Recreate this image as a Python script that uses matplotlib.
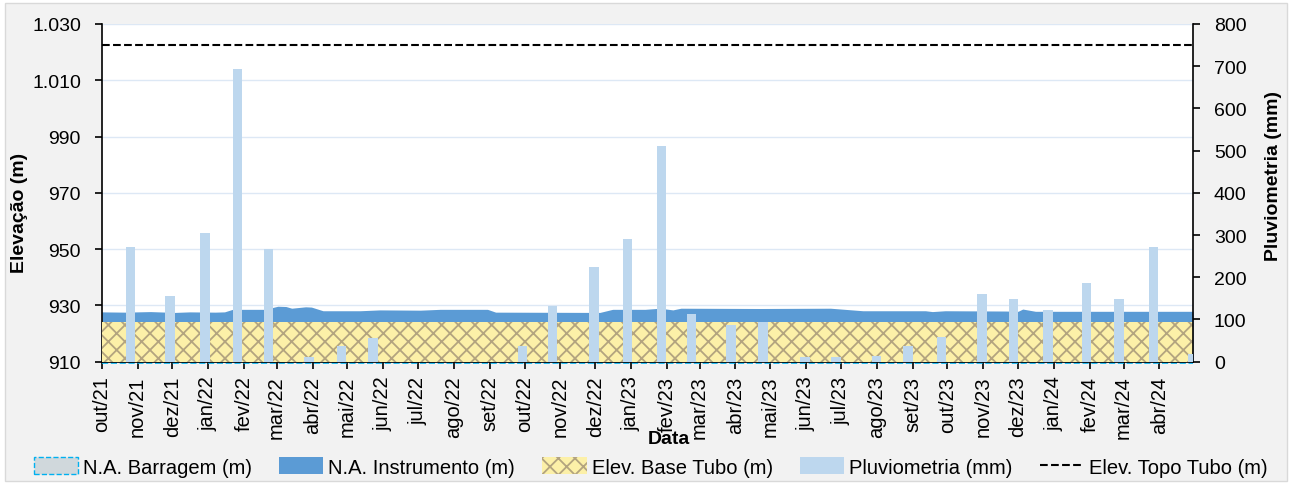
import matplotlib
matplotlib.use('Agg')
import matplotlib.pyplot as plt
import matplotlib.ticker as mticker
from matplotlib.patches import Patch, Rectangle
from matplotlib.lines import Line2D
import pandas as pd

plt.rcParams['font.family'] = ['Liberation Sans', 'DejaVu Sans']
plt.rcParams['hatch.linewidth'] = 1.3

# pluviometria mensal (mm)
chuva_datas = ['2021-10-26', '2021-11-29', '2021-12-29', '2022-01-26', '2022-02-22', '2022-03-29',
               '2022-04-26', '2022-05-23', '2022-09-29', '2022-10-25', '2022-11-30', '2022-12-29',
               '2023-01-27', '2023-02-22', '2023-03-28', '2023-04-25', '2023-05-31', '2023-06-27',
               '2023-08-01', '2023-08-28', '2023-09-26', '2023-10-31', '2023-11-27', '2023-12-27',
               '2024-01-29', '2024-02-26', '2024-03-27', '2024-04-30']
chuva_mm = [271, 155, 305, 693, 267, 12, 37, 56, 38, 132, 224, 290,
            510, 112, 88, 94, 12, 12, 13, 36, 59, 160, 148, 122,
            186, 148, 271, 18]

# N.A. instrumento (m)
na_datas = ['2021-10-01', '2021-10-21', '2021-11-12', '2021-12-03', '2021-12-16', '2022-01-07',
            '2022-01-15', '2022-01-22', '2022-02-19', '2022-03-02', '2022-03-09', '2022-03-14',
            '2022-03-26', '2022-03-31', '2022-04-10', '2022-05-12', '2022-05-29', '2022-07-03',
            '2022-07-20', '2022-08-30', '2022-09-06', '2022-12-05', '2022-12-16', '2023-01-13',
            '2023-01-26', '2023-02-06', '2023-02-13', '2023-04-22', '2023-06-22', '2023-07-20',
            '2023-09-12', '2023-09-18', '2023-09-29', '2023-11-20', '2023-12-01', '2023-12-05',
            '2023-12-16', '2024-04-30']
na_instr = [927.7, 927.6, 927.8, 927.5, 927.7, 927.6,
            927.7, 928.6, 928.6, 929.7, 929.6, 929.0,
            929.5, 929.4, 928.1, 928.1, 928.4, 928.3,
            928.6, 928.6, 927.6, 927.5, 928.6, 928.6,
            929.0, 928.4, 929.0, 928.9, 929.0, 928.1,
            928.1, 927.8, 928.1, 928.0, 927.9, 928.7,
            927.9, 927.9]

elev_base = 924.2    # Elev. Base Tubo (m)
elev_topo = 1022.5   # Elev. Topo Tubo (m)
na_barragem = 909.7  # fica abaixo do eixo

meses = ['jan', 'fev', 'mar', 'abr', 'mai', 'jun', 'jul', 'ago', 'set', 'out', 'nov', 'dez']

inicio = pd.Timestamp('2021-10-01')
fim = pd.Timestamp('2024-04-30')
fs = 14

fig = plt.figure(figsize=(12.91, 4.85), dpi=100)
fig.patches.append(Rectangle((0.004, 0.006), 0.993, 0.986, transform=fig.transFigure,
                             facecolor='#F2F2F2', edgecolor='#D9D9D9', lw=1, zorder=-10))
ax = fig.add_axes([0.0788, 0.2522, 0.9241 - 0.0788, 0.9485 - 0.2522])
ax.set_facecolor('white')

na_x = pd.to_datetime(na_datas)
ax.fill_between(na_x, 910, na_instr, color='#5B9BD5', lw=0, zorder=2)
ax.fill_between([inicio, fim], 910, elev_base, facecolor='#FCF0A8', edgecolor='#B3A47F',
                hatch='xx', lw=0, zorder=3)
ax.plot([inicio, fim], [na_barragem, na_barragem], color='#00B0F0', ls='--', lw=1.2,
        clip_on=False, zorder=1)
ax.plot([inicio, fim], [elev_topo, elev_topo], color='black', ls='--', lw=1.5, zorder=4)

ax.set_ylim(910, 1030)
ax.set_yticks(range(910, 1031, 20))
ax.yaxis.set_major_formatter(mticker.FuncFormatter(lambda v, p: f'{v:,.0f}'.replace(',', '.')))
ax.grid(axis='y', color='#DDE8F5', lw=1)
ax.set_axisbelow(True)
ax.set_xlim(inicio, fim)

ticks = pd.date_range('2021-10-01', '2024-04-01', freq='MS')
ax.set_xticks(ticks)
ax.set_xticklabels([f'{meses[t.month - 1]}/{str(t.year)[2:]}' for t in ticks], rotation=90)

ax2 = ax.twinx()
ax2.bar(pd.to_datetime(chuva_datas), chuva_mm, width=8.2, color='#BDD7EE', zorder=5)
ax2.set_ylim(0, 800)
ax2.set_yticks(range(0, 801, 100))
ax2.set_xlim(inicio, fim)

for a in (ax, ax2):
    a.spines['top'].set_visible(False)
    for s in ('left', 'right', 'bottom'):
        a.spines[s].set_linewidth(1.2)
    a.tick_params(labelsize=fs, length=5, width=1.2, direction='out', pad=10)
ax.tick_params(axis='x', pad=5, labelsize=14.5)
ax.spines['right'].set_visible(False)
ax2.spines['left'].set_visible(False)
ax2.spines['bottom'].set_visible(False)

fig.text(20 / 1291, 1 - 213 / 485, 'Elevação (m)', rotation=90, fontsize=fs, fontweight='bold',
         ha='center', va='center')
fig.text(1274 / 1291, 1 - 176 / 485, 'Pluviometria (mm)', rotation=90, fontsize=fs,
         fontweight='bold', ha='center', va='center')
fig.text(669 / 1291, 1 - 440 / 485, 'Data', fontsize=fs, fontweight='bold', ha='center', va='center')

handles = [Patch(facecolor='#D0D8DC', edgecolor='#00B0F0', ls='--', lw=1),
           Patch(facecolor='#5B9BD5'),
           Patch(facecolor='#FCF0A8', edgecolor='#B3A47F', hatch='xx', lw=0),
           Patch(facecolor='#BDD7EE'),
           Line2D([], [], color='black', ls='--', lw=1.5)]
labels = ['N.A. Barragem (m)', 'N.A. Instrumento (m)', 'Elev. Base Tubo (m)',
          'Pluviometria (mm)', 'Elev. Topo Tubo (m)']
fig.legend(handles, labels, loc='center', bbox_to_anchor=(0.504, 1 - 468 / 485), ncol=5,
           frameon=False, fontsize=14.5, handlelength=2.2, handletextpad=0.25,
           columnspacing=1.35, handleheight=0.9)

fig.savefig('out.png', dpi=100)
